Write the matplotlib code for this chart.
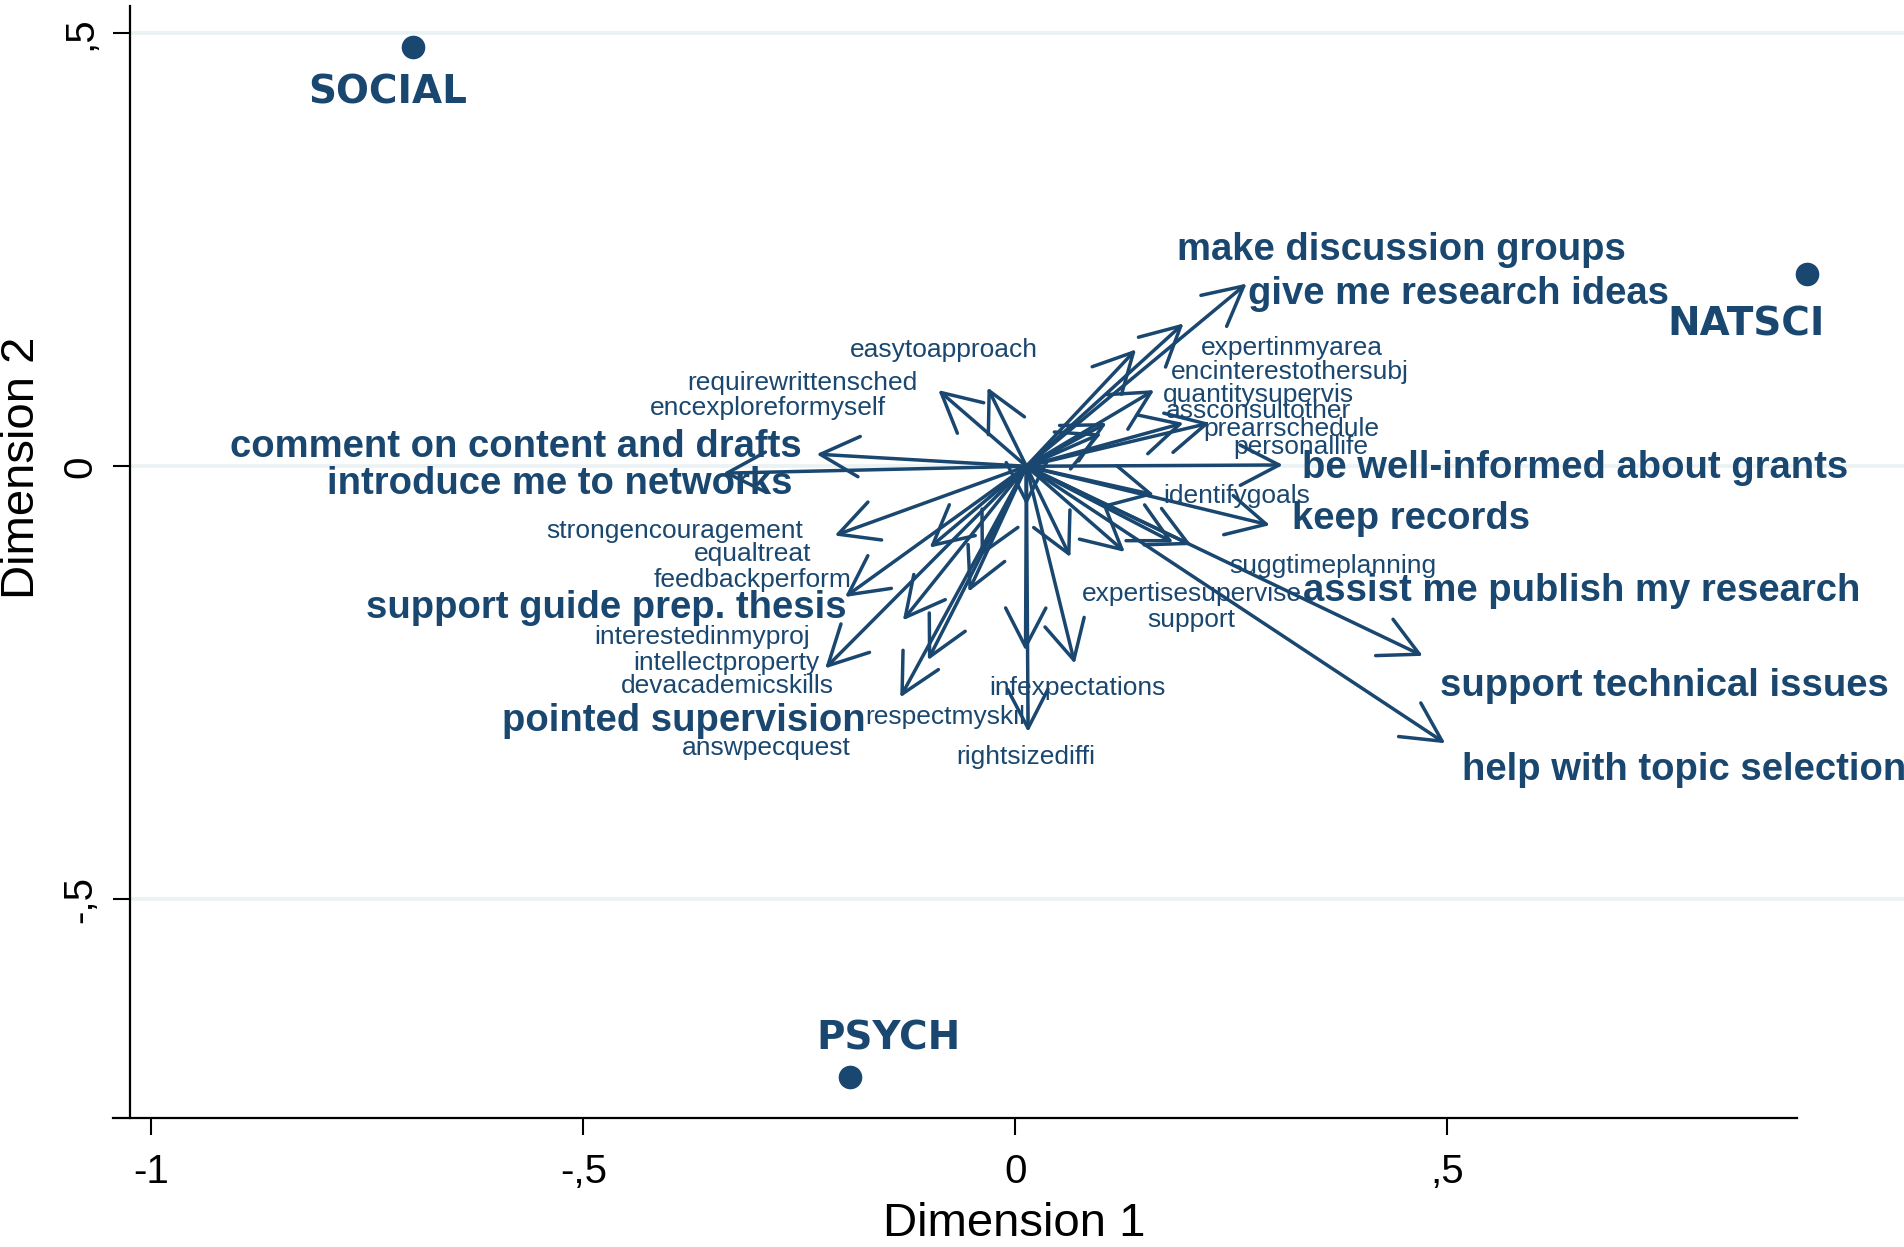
import matplotlib
matplotlib.use("Agg")
import matplotlib.pyplot as plt
from matplotlib.patches import FancyArrowPatch, ArrowStyle

NAVY = "#1a476f"
GRID = "#eaf2f3"

# ---- variable arrows (column coordinates) ----
var_names = [
    "give me research ideas", "make discussion groups", "expertinmyarea",
    "encinterestothersubj", "quantitysupervis", "personallife",
    "assconsultother", "prearrschedule", "be well-informed about grants",
    "requirewrittensched", "easytoapproach", "comment on content and drafts",
    "introduce me to networks", "strongencouragement", "equaltreat",
    "support guide prep. thesis", "encexploreformyself", "interestedinmyproj",
    "intellectproperty", "devacademicskills", "pointed supervision",
    "feedbackperform", "answpecquest", "infexpectations", "respectmyskill",
    "rightsizediffi", "support", "expertisesupervise", "suggtimeplanning",
    "assist me publish my research", "identifygoals", "keep records",
    "support technical issues", "help with topic selection",
]
tip_x = [0.268, 0.195, 0.140, 0.161, 0.106, 0.100, 0.195, 0.2255, 0.310,
         -0.089, -0.032, -0.230, -0.338, -0.209, -0.099, -0.197, -0.040,
         -0.130, -0.220, -0.101, -0.133, -0.054, 0.013, 0.012, 0.069, 0.015,
         0.064, 0.127, 0.183, 0.204, 0.161, 0.295, 0.472, 0.498]
tip_y = [0.211, 0.165, 0.135, 0.088, 0.050, 0.038, 0.050, 0.050, 0.0015,
         0.088, 0.091, 0.014, -0.008, -0.080, -0.094, -0.151, -0.104,
         -0.178, -0.2335, -0.224, -0.267, -0.145, -0.045, -0.213, -0.228,
         -0.307, -0.105, -0.099, -0.088, -0.091, -0.033, -0.068, -0.219,
         -0.320]

# label anchors (data units)
lab_x = [0.2699, 0.1870, 0.2151, 0.1800, 0.1715, 0.2531, 0.1743, 0.2179,
         0.3318, -0.1125, -0.0822, -0.2474, -0.2573, -0.2460, -0.2362,
         -0.1954, -0.1490, -0.2376, -0.2263, -0.2095, -0.1729, -0.1898,
         -0.1898, 0.0724, -0.0780, 0.0120, 0.2039, 0.3318, 0.2474, 0.3332,
         0.1715, 0.3205, 0.4921, 0.5174]
lab_y = [0.1879, 0.2384, 0.1290, 0.1010, 0.0743, 0.0140, 0.0561, 0.0351,
         -0.0140, 0.0884, 0.1262, 0.0112, -0.0323, -0.0827, -0.1094,
         -0.1753, 0.0589, -0.2048, -0.2356, -0.2623, -0.3058, -0.1389,
         -0.3338, -0.2637, -0.2973, -0.3436, -0.1851, -0.1557, -0.1234,
         -0.1557, -0.0421, -0.0729, -0.2651, -0.3619]
highlight = {"give me research ideas", "make discussion groups",
             "be well-informed about grants", "comment on content and drafts",
             "introduce me to networks", "support guide prep. thesis",
             "pointed supervision", "assist me publish my research",
             "keep records", "support technical issues",
             "help with topic selection"}

origin_x, origin_y = 0.013, 0.0

# ---- row points (disciplines) ----
groups = ["SOCIAL", "NATSCI", "PSYCH"]
group_x = [-0.697, 0.917, -0.191]
group_y = [0.484, 0.2216, -0.7055]
group_lab_x = [-0.7268, 0.8463, -0.1469]
group_lab_y = [0.4194, 0.1515, -0.6732]

x_ticks = [-1, -0.5, 0, 0.5]
x_tick_labels = ["-1", "-,5", "0", ",5"]
y_ticks = [-0.5, 0, 0.5]
y_tick_labels = ["-,5", "0", ",5"]

# horizontal alignment of each variable label
label_ha = ["left", "left", "left", "left", "left", "left", "left", "left",
            "left", "right", "center", "right", "right", "right", "right",
            "right", "right", "right", "right", "right", "right", "right",
            "right", "center", "center", "center", "center", "right", "left",
            "left", "left", "left", "left", "left"]

W, H = 1568, 1027
fig = plt.figure(figsize=(19.04, 12.47), dpi=100)
ax = fig.add_axes([107 / W, 1 - 921 / H, 1 - 107 / W, (921 - 5) / H])
ax.set_xlim(-1.0249, 1.0291)
ax.set_ylim(-0.7532, 0.5316)

for s in ("top", "right"):
    ax.spines[s].set_visible(False)
ax.spines["bottom"].set_bounds(-1.045, 0.9054)
for s in ("bottom", "left"):
    ax.spines[s].set_linewidth(1.6)
    ax.spines[s].set_color("black")

ax.set_xticks(x_ticks)
ax.set_xticklabels(x_tick_labels, fontfamily="Liberation Sans", fontsize=29)
ax.set_yticks(y_ticks)
ax.set_yticklabels(y_tick_labels, fontfamily="Liberation Sans", fontsize=29,
                   rotation=90, va="center")
ax.tick_params(axis="x", length=12, width=1.5, pad=13)
ax.tick_params(axis="y", length=12, width=1.5, pad=10)

for yv in y_ticks:
    ax.axhline(yv, color=GRID, lw=2.6, zorder=0)

fig.text(835 / W, 1 - 1018 / H, "Dimension 1", ha="center", va="baseline",
         fontfamily="Liberation Sans", fontsize=34)
fig.text(18 / W, 1 - 385 / H, "Dimension 2", ha="center", va="center",
         rotation=90, fontfamily="Liberation Sans", fontsize=34)

# variable labels
for name, lx, ly, ha in zip(var_names, lab_x, lab_y, label_ha):
    big = name in highlight
    ax.text(lx, ly, name, ha=ha, va="baseline", color=NAVY,
            fontfamily="Liberation Sans",
            fontweight="bold" if big else "normal",
            fontsize=27.5 if big else 19, zorder=3, clip_on=False)

# arrows from the centroid
style = ArrowStyle("->", head_length=2.8, head_width=1.45)
for tx, ty in zip(tip_x, tip_y):
    arr = FancyArrowPatch((origin_x, origin_y), (tx, ty), arrowstyle=style,
                          mutation_scale=10, lw=2.5, color=NAVY,
                          shrinkA=0, shrinkB=0, zorder=4, clip_on=False)
    ax.add_patch(arr)

# discipline points
ax.plot(group_x, group_y, "o", color=NAVY, ms=16, zorder=5, clip_on=False)
for g, gx, gy in zip(groups, group_lab_x, group_lab_y):
    ax.text(gx, gy, g, ha="center", va="baseline", color=NAVY,
            fontfamily="DejaVu Sans", fontweight="bold", fontsize=28,
            zorder=5, clip_on=False)

fig.savefig("out.png", dpi=100)
